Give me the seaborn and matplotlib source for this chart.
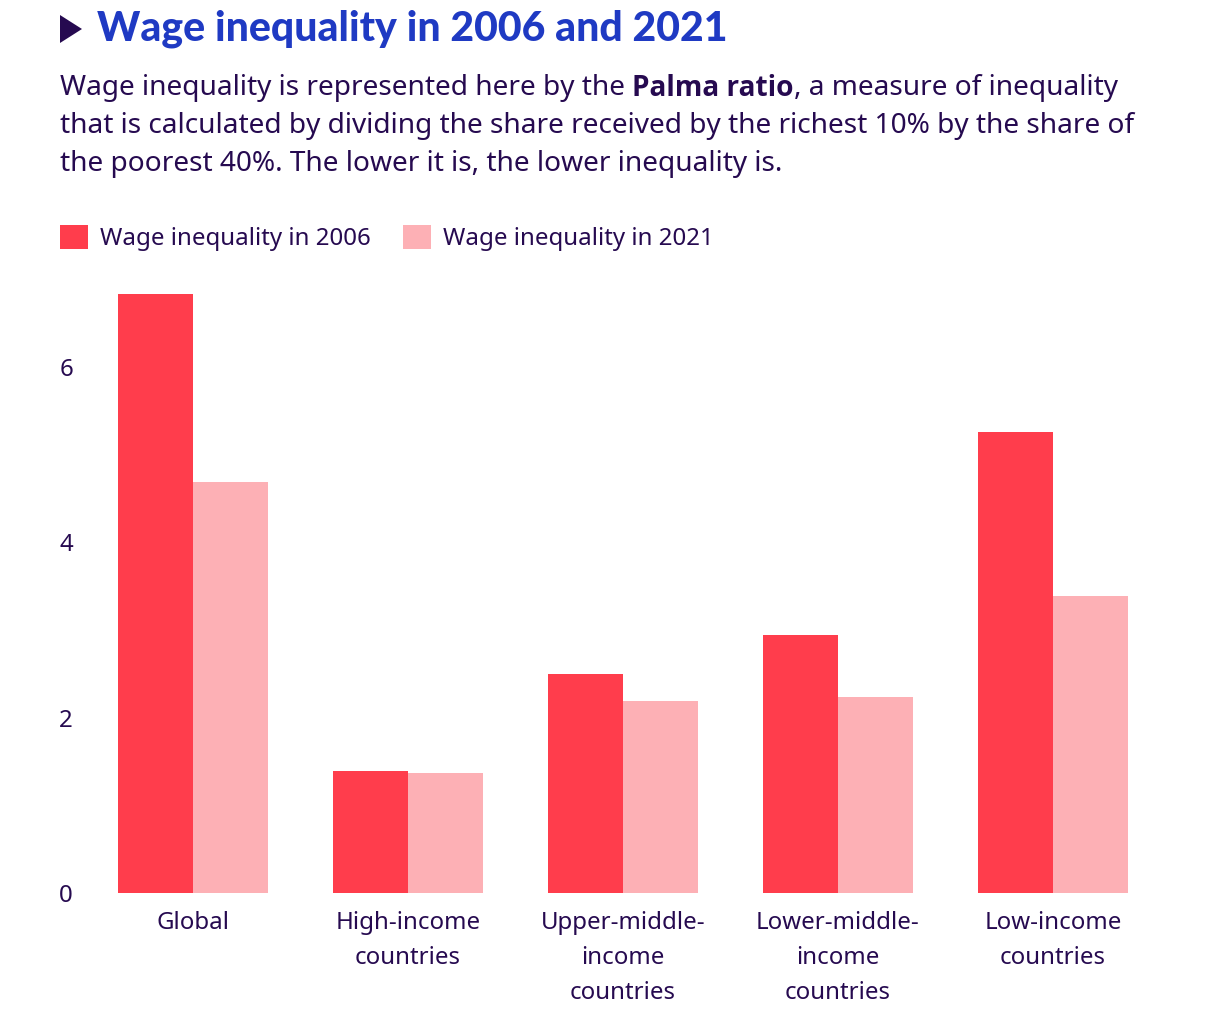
import matplotlib
matplotlib.use("Agg")
import matplotlib.pyplot as plt
import seaborn as sns
import pandas as pd
from matplotlib.patches import Patch, Polygon

categories = ["Global", "High-income\ncountries", "Upper-middle-\nincome\ncountries",
              "Lower-middle-\nincome\ncountries", "Low-income\ncountries"]
series_names = ["Wage inequality in 2006", "Wage inequality in 2021"]
values_2006 = [6.83, 1.39, 2.50, 2.94, 5.26]
values_2021 = [4.68, 1.37, 2.19, 2.23, 3.39]
y_ticks = [0, 2, 4, 6]

RED = "#FF3D4C"
PINK = "#FDB0B5"
TEXT = "#260A50"
BLUE = "#1F3AC3"

df = pd.DataFrame({
    "category": categories * 2,
    "series": [series_names[0]] * 5 + [series_names[1]] * 5,
    "value": values_2006 + values_2021,
})

sns.set_theme(style="white")
plt.rcParams["font.family"] = ["Noto Sans", "DejaVu Sans"]

W, H = 1220, 1010
fig = plt.figure(figsize=(12.2, 10.1), dpi=100)
ax = fig.add_axes([85.5 / W, 117 / H, 1075 / W, 614 / H])

sns.barplot(data=df, x="category", y="value", hue="series", order=categories,
            hue_order=series_names, palette=[RED, PINK], width=0.7, saturation=1,
            ax=ax, legend=False, linewidth=0, edgecolor="none")
ax.set_xlim(-0.5, 4.5)
ax.set_ylim(0, 7)
ax.set_yticks(y_ticks)
ax.set_xlabel("")
ax.set_ylabel("")
for s in ax.spines.values():
    s.set_visible(False)
ax.tick_params(axis="both", length=0, labelsize=17.3, colors=TEXT)
ax.tick_params(axis="y", pad=9)
ax.tick_params(axis="x", pad=13)
for lbl in ax.get_xticklabels():
    lbl.set_linespacing(1.62)
    lbl.set_verticalalignment("top")
for lbl in ax.get_yticklabels():
    lbl.set_horizontalalignment("right")

# Title marker (decorative triangle)
tri = Polygon([(60 / W, 1 - 15 / H), (60 / W, 1 - 43 / H), (82 / W, 1 - 29 / H)],
              closed=True, transform=fig.transFigure, facecolor=TEXT, edgecolor="none")
fig.patches.append(tri)
fig.text(97 / W, 1 - 29 / H, "Wage inequality in 2006 and 2021", fontsize=29.5,
         fontweight="black", color=BLUE, va="center", ha="left", family=["Lato", "DejaVu Sans"])

# Subtitle with bold part
fs = 20.2
renderer = fig.canvas.get_renderer()
y1 = 1 - 88 / H
t1 = fig.text(60 / W, y1, "Wage inequality is represented here by the ", fontsize=fs,
              color=TEXT, va="center", ha="left")
bb = t1.get_window_extent(renderer)
t2 = fig.text(bb.x1 / W, y1, "Palma ratio", fontsize=fs, color=TEXT, va="center",
              ha="left", fontweight="bold", family=["Open Sans", "DejaVu Sans"])
bb2 = t2.get_window_extent(renderer)
fig.text(bb2.x1 / W, y1, ", a measure of inequality", fontsize=fs, color=TEXT,
         va="center", ha="left")
fig.text(60 / W, 1 - 126 / H,
         "that is calculated by dividing the share received by the richest 10% by the share of",
         fontsize=fs, color=TEXT, va="center", ha="left")
fig.text(60 / W, 1 - 164 / H,
         "the poorest 40%. The lower it is, the lower inequality is.",
         fontsize=fs, color=TEXT, va="center", ha="left")

# Legend
handles = [Patch(facecolor=RED, edgecolor="none"), Patch(facecolor=PINK, edgecolor="none")]
leg = fig.legend(handles, series_names, loc="center left",
                 bbox_to_anchor=(60 / W, 1 - 238 / H), ncol=2, frameon=False,
                 fontsize=17.3, handlelength=1.17, handleheight=1.17, handletextpad=0.5,
                 columnspacing=1.35, borderaxespad=0, borderpad=0)
for t in leg.get_texts():
    t.set_color(TEXT)

fig.savefig("out.png", dpi=100, facecolor="white")
